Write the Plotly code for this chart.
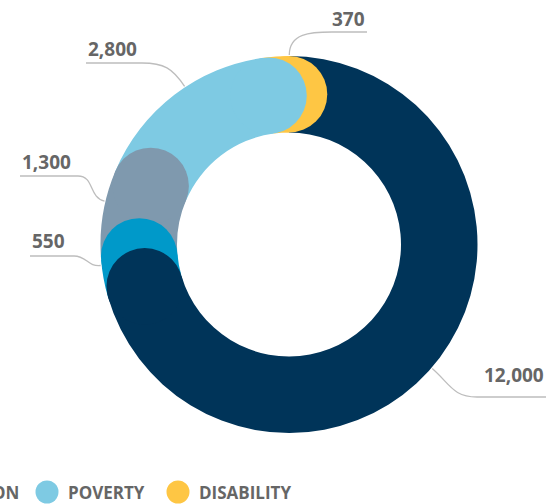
import math
import plotly.graph_objects as go

# ---- data ----
categories = ["HOUSING", "HEALTH", "EDUCATION", "POVERTY", "DISABILITY"]
values = [12000, 550, 1300, 2800, 370]
colors = ["#003459", "#0099c9", "#7f99ae", "#7ecae3", "#fec644"]

# ---- layout constants (pixels) ----
W, H = 548, 504
CX, CY = 289.0, 244.5          # ring centre
R_OUT, R_IN = 188.5, 112.0     # ring radii
R_MID = (R_OUT + R_IN) / 2
CAP_R = (R_OUT - R_IN) / 2
LABEL_COLOR = "#666666"
LINE_COLOR = "#bdbdbd"
FONT = "Open Sans"

# value label placement: (side, text edge x, text centre y, line y, elbow x)
label_layout = [
    ("right", 546, 375, 397, 477),
    ("left", 30, 241, 256, 74),
    ("left", 20, 162, 176, 78),
    ("left", 86, 49, 63, 142),
    ("right", 367, 19, 32, 332),
]
# legend row: symbol centre x of each item, row centre y
legend_x = [-390, -240, -102, 47, 178]
legend_y = 492
legend_d = 23


def px(x):
    return x / W


def py(y):
    return 1 - y / H


def ring_point(angle_deg, r):
    a = math.radians(angle_deg)
    return CX + r * math.sin(a), CY - r * math.cos(a)


total = sum(values)
starts, ends = [], []
acc = 0.0
for v in values:
    starts.append(acc / total * 360)
    acc += v
    ends.append(acc / total * 360)

fig = go.Figure()
fig.add_trace(go.Pie(
    labels=categories,
    values=values,
    marker=dict(colors=colors, line=dict(width=0)),
    hole=R_IN / R_OUT,
    sort=False,
    direction="clockwise",
    rotation=0,
    textinfo="none",
    hoverinfo="label+value",
    showlegend=False,
    domain=dict(x=[px(CX - R_OUT), px(CX + R_OUT)],
                y=[py(CY + R_OUT), py(CY - R_OUT)]),
))

shapes = []
# rounded caps at the clockwise end of every slice (drawn last-to-first so
# each cap sits on top of the following one)
for i in reversed(range(len(values))):
    x, y = ring_point(ends[i], R_MID)
    shapes.append(dict(
        type="circle", xref="paper", yref="paper", layer="above",
        x0=px(x - CAP_R), x1=px(x + CAP_R),
        y0=py(y + CAP_R), y1=py(y - CAP_R),
        fillcolor=colors[i], line=dict(width=0),
    ))

annotations = []
for i, v in enumerate(values):
    side, tx, ty, ly, ex = label_layout[i]
    mid = (starts[i] + ends[i]) / 2 + 4
    ax, ay = ring_point(mid, R_OUT + 1)
    ux, uy = math.sin(math.radians(mid)), -math.cos(math.radians(mid))
    k = 0.45 * math.hypot(ex - ax, ly - ay)
    c1x, c1y = ax + ux * k, ay + uy * k
    c2x = ex - k if side == "right" else ex + k
    path = (f"M{px(ax)},{py(ay)} C{px(c1x)},{py(c1y)} {px(c2x)},{py(ly)} "
            f"{px(ex)},{py(ly)} L{px(tx)},{py(ly)}")
    shapes.append(dict(type="path", xref="paper", yref="paper", layer="above",
                       path=path, line=dict(color=LINE_COLOR, width=1.3)))
    annotations.append(dict(
        xref="paper", yref="paper", x=px(tx), y=py(ty),
        xanchor="right" if side == "right" else "left", yanchor="middle",
        text=f"{v:,}", showarrow=False,
        font=dict(family=FONT, size=19, color=LABEL_COLOR, weight=700),
    ))

# legend row
for i, name in enumerate(categories):
    lx = legend_x[i]
    shapes.append(dict(
        type="circle", xref="paper", yref="paper", layer="above",
        x0=px(lx - legend_d / 2), x1=px(lx + legend_d / 2),
        y0=py(legend_y + legend_d / 2), y1=py(legend_y - legend_d / 2),
        fillcolor=colors[i], line=dict(width=0),
    ))
    annotations.append(dict(
        xref="paper", yref="paper", x=px(lx + 19), y=py(legend_y),
        xanchor="left", yanchor="middle", text=name, showarrow=False,
        font=dict(family=FONT, size=17, color=LABEL_COLOR, weight=700),
    ))

fig.update_layout(
    width=W, height=H,
    margin=dict(l=0, r=0, t=0, b=0),
    paper_bgcolor="white", plot_bgcolor="white",
    shapes=shapes, annotations=annotations,
    showlegend=False,
)

fig.write_html("out.html")
